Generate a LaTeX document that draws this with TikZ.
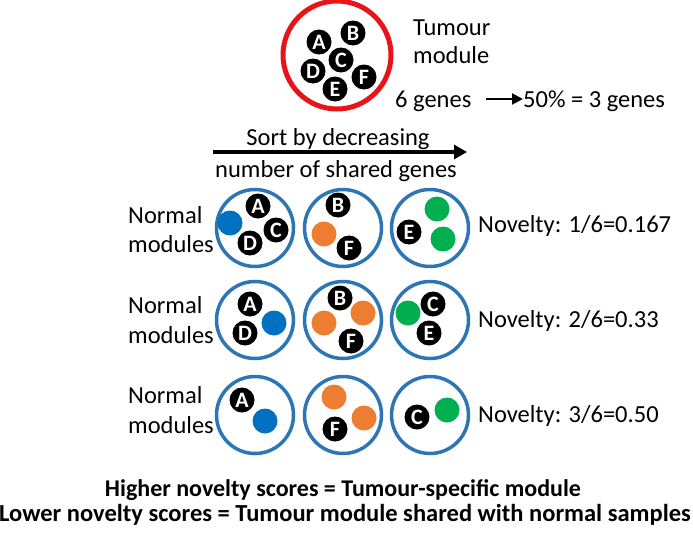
\documentclass[tikz,border=0pt]{standalone}
\usepackage{fontspec}
\setmainfont{Carlito}
\usetikzlibrary{arrows.meta}
\definecolor{modblue}{HTML}{2E75B6}
\definecolor{dotblue}{HTML}{0070C0}
\definecolor{dotorange}{HTML}{ED7D31}
\definecolor{dotgreen}{HTML}{00B050}
\definecolor{tred}{HTML}{E8141A}
\tikzset{
  txt/.style={font=\fontsize{24.5}{28}\selectfont, inner sep=0pt, anchor=base west},
  gene/.style={circle, fill=black, minimum size=25pt, inner sep=0pt, text=white, font=\fontsize{22}{22}\selectfont\bfseries},
  bdot/.style={circle, fill=dotblue, minimum size=25pt, inner sep=0pt},
  odot/.style={circle, fill=dotorange, minimum size=25pt, inner sep=0pt},
  gdot/.style={circle, fill=dotgreen, minimum size=25pt, inner sep=0pt},
  normmod/.style={circle, draw=modblue, line width=3.5pt, minimum size=77pt, inner sep=0pt},
  tummod/.style={circle, draw=tred, line width=5pt, minimum size=108pt, inner sep=0pt},
  arr/.style={line width=3.5pt, -{Triangle[length=13pt,width=14pt]}},
}
\begin{document}
\begin{tikzpicture}[x=1pt,y=-1pt]
\useasboundingbox (0,0) rectangle (693,538);
% tumour module
\node[tummod] (T) at (337,55) {};
\node[gene] (tA) at (319,42) {A};
\node[gene] (tB) at (353,33) {B};
\node[gene] (tC) at (341,60) {C};
\node[gene] (tD) at (313,71) {D};
\node[gene] (tE) at (335,89) {E};
\node[gene] (tF) at (364,77) {F};
\node[txt] (tum1) at (413,35) {Tumour};
\node[txt] (tum2) at (413,63) {module};
\node[txt] (six) at (395,107) {6 genes};
\node[txt] (fifty) at (523,107) {50\% = 3 genes};
\coordinate (a0) at (486,99);
\draw[line width=2pt, -{Triangle[length=11pt,width=11pt]}] (a0) -- (fifty.west |- a0);
% sort arrow
\coordinate (s0) at (213,152);
\coordinate (s1) at (467,152);
\draw[arr] (s0) -- (s1);
\node[txt, anchor=base] (sort1) at (338,145) {Sort by decreasing};
\node[txt, anchor=base] (sort2) at (336,177) {number of shared genes};
% row 1
\node[txt] (n1a) at (128,223) {Normal};
\node[txt] (n1b) at (128,252) {modules};
\node[normmod] (m11) at (255,228) {};
\node[normmod] (m12) at (343,228) {};
\node[normmod] (m13) at (430,228) {};
\node[bdot] at (230,223) {};
\node[gene] at (258,206) {A};
\node[gene] at (276,230) {C};
\node[gene] at (250,243) {D};
\node[gene] at (338,205) {B};
\node[odot] at (324,234) {};
\node[gene] at (349,248) {F};
\node[gene] at (409,232) {E};
\node[gdot] at (437,209) {};
\node[gdot] at (443,239) {};
\node[txt] (nov1) at (478,232) {Novelty: 1/6=0.167};
% row 2
\node[txt] (n2a) at (128,313) {Normal};
\node[txt] (n2b) at (128,343) {modules};
\node[normmod] (m21) at (255,320) {};
\node[normmod] (m22) at (343,320) {};
\node[normmod] (m23) at (430,320) {};
\node[gene] at (250,304) {A};
\node[gene] at (245,333) {D};
\node[bdot] at (274,323) {};
\node[gene] at (340,298) {B};
\node[odot] at (363,313) {};
\node[odot] at (324,323) {};
\node[gene] at (351,341) {F};
\node[gdot] at (408,313) {};
\node[gene] at (433,304) {C};
\node[gene] at (429,333) {E};
\node[txt] (nov2) at (478,327) {Novelty: 2/6=0.33};
% row 3
\node[txt] (n3a) at (128,403) {Normal};
\node[txt] (n3b) at (128,433) {modules};
\node[normmod] (m31) at (255,415) {};
\node[normmod] (m32) at (343,415) {};
\node[normmod] (m33) at (430,415) {};
\node[gene] at (242,400) {A};
\node[bdot] at (265,421) {};
\node[odot] at (334,397) {};
\node[odot] at (364,418) {};
\node[gene] at (335,429) {F};
\node[gene] at (417,417) {C};
\node[gdot] at (447,410) {};
\node[txt] (nov3) at (478,422) {Novelty: 3/6=0.50};
% bottom
\node[txt, anchor=base, font=\fontsize{24}{28}\selectfont\bfseries] (b1) at (343,496) {Higher novelty scores = Tumour-specific module};
\node[txt, anchor=base, font=\fontsize{24.5}{28}\selectfont\bfseries] (b2) at (345,521) {Lower novelty scores = Tumour module shared with normal samples};
\end{tikzpicture}
\end{document}
